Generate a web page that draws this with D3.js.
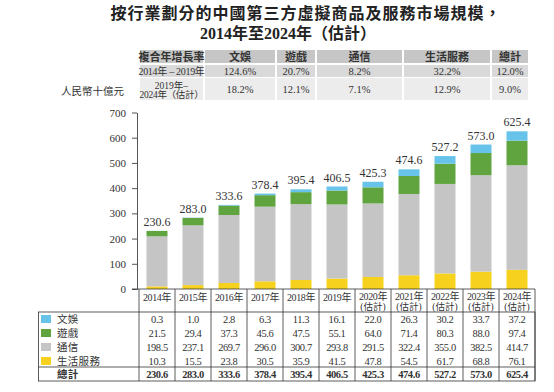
<!DOCTYPE html>
<html>
<head>
<meta charset="utf-8">
<script src="https://cdn.jsdelivr.net/npm/d3@7/dist/d3.min.js"></script>
<style>
  body { margin:0; background:#fff; }
  svg text { font-family:"Liberation Serif","Noto Sans CJK TC",serif; fill:#333; }
</style>
</head>
<body>
<svg id="chart" width="554" height="392"></svg>
<script>
// data
const years     = ['2014年','2015年','2016年','2017年','2018年','2019年','2020年','2021年','2022年','2023年','2024年'];
const estimated = [false,false,false,false,false,false,true,true,true,true,true];
const wenyu     = [0.3,1.0,2.8,6.3,11.3,16.1,22.0,26.3,30.2,33.7,37.2];
const youxi     = [21.5,29.4,37.3,45.6,47.5,55.1,64.0,71.4,80.3,88.0,97.4];
const tongxin   = [198.5,237.1,269.7,296.0,300.7,293.8,291.5,322.4,355.0,382.5,414.7];
const shenghuo  = [10.3,15.5,23.8,30.5,35.9,41.5,47.8,54.5,61.7,68.8,76.1];
const totals    = [230.6,283.0,333.6,378.4,395.4,406.5,425.3,474.6,527.2,573.0,625.4];
const yTicks    = [0,100,200,300,400,500,600,700];

const cagrHeads = ['複合年增長率','文娛','遊戲','通信','生活服務','總計'];
const cagr1419  = ['124.6%','20.7%','8.2%','32.2%','12.0%'];
const cagr1924  = ['18.2%','12.1%','7.1%','12.9%','9.0%'];

const series = [
  {key:'shenghuo', name:'生活服務', values:shenghuo, color:'#f6d21f'},
  {key:'tongxin',  name:'通信',     values:tongxin,  color:'#c6c5c6'},
  {key:'youxi',    name:'遊戲',     values:youxi,    color:'#5fa43f'},
  {key:'wenyu',    name:'文娛',     values:wenyu,    color:'#67c3ea'}
];

const svg = d3.select('#chart');

// title
svg.append('text').attr('x',306).attr('y',19).attr('text-anchor','middle')
   .style('font-family','"Noto Sans CJK TC",sans-serif').style('font-weight','bold')
   .style('font-size','16px').style('letter-spacing','1px').style('fill','#222')
   .text('按行業劃分的中國第三方虛擬商品及服務市場規模，');
svg.append('text').attr('x',288).attr('y',39).attr('text-anchor','middle')
   .style('font-weight','bold').style('font-size','16px').style('fill','#222')
   .text('2014年至2024年（估計）');

// CAGR table
const cagrCols = [[140,203],[205,275],[277,315],[317,402],[404,490],[492,528]];
const cagrRows = [[50,63,'#c6c6c6'],[65,77,'#d9d9d9'],[78,100,'#ececec']];
const ct = svg.append('g').attr('class','cagr');
cagrRows.forEach((r,ri)=>{
  cagrCols.forEach((c,ci)=>{
    ct.append('rect').attr('x',c[0]).attr('y',r[0]).attr('width',c[1]-c[0]).attr('height',r[1]-r[0])
      .attr('fill',r[2]);
  });
});
cagrHeads.forEach((h,i)=>{
  ct.append('text').attr('x',(cagrCols[i][0]+cagrCols[i][1])/2).attr('y',60.5)
    .attr('text-anchor','middle').style('font-family','"Noto Sans CJK TC",sans-serif')
    .style('font-weight','bold').style('font-size','11px').style('fill','#333').text(h);
});
ct.append('text').attr('x',171.5).attr('y',75).attr('text-anchor','middle')
  .style('font-size','10px').style('letter-spacing','-0.3px').text('2014年 – 2019年');
ct.append('text').attr('x',171.5).attr('y',88.5).attr('text-anchor','middle')
  .style('font-size','9.5px').text('2019年–');
ct.append('text').attr('x',171.5).attr('y',98).attr('text-anchor','middle')
  .style('font-size','9.5px').style('letter-spacing','-0.3px').text('2024年（估計）');
cagr1419.forEach((v,i)=>{
  ct.append('text').attr('x',(cagrCols[i+1][0]+cagrCols[i+1][1])/2).attr('y',75)
    .attr('text-anchor','middle').style('font-size','10.5px').text(v);
});
cagr1924.forEach((v,i)=>{
  ct.append('text').attr('x',(cagrCols[i+1][0]+cagrCols[i+1][1])/2).attr('y',93)
    .attr('text-anchor','middle').style('font-size','10.5px').text(v);
});
svg.append('text').attr('x',124).attr('y',95).attr('text-anchor','end')
   .style('font-size','10.5px').text('人民幣十億元');

// scales
const x = d3.scaleBand().domain(years).range([139,535]).paddingInner(0.417).paddingOuter(0.2085);
const y = d3.scaleLinear().domain([0,700]).range([289,112.5]);

// stacked bars
const rows = years.map((yr,i)=>{
  const o = {year:yr};
  series.forEach(s=> o[s.key]=s.values[i]);
  return o;
});
const stack = d3.stack().keys(series.map(s=>s.key))(rows);
svg.append('g').selectAll('g').data(stack).join('g')
   .attr('fill',(d,i)=>series[i].color)
   .selectAll('rect').data(d=>d).join('rect')
   .attr('x',d=>x(d.data.year)).attr('width',x.bandwidth())
   .attr('y',d=>y(d[1])).attr('height',d=>y(d[0])-y(d[1]));

// total labels
svg.append('g').selectAll('text').data(years).join('text')
   .attr('x',d=>x(d)+x.bandwidth()/2).attr('y',(d,i)=>y(totals[i])-5)
   .attr('text-anchor','middle').style('font-size','12px').style('fill','#333')
   .text((d,i)=>totals[i].toFixed(1));

// y axis
const ya = svg.append('g').attr('transform','translate(137,0)')
   .call(d3.axisLeft(y).tickValues(yTicks).tickSize(5).tickSizeOuter(0).tickPadding(6).tickFormat(d3.format('d')));
ya.select('.domain').attr('stroke','#555');
ya.selectAll('.tick line').attr('stroke','#555');
ya.selectAll('.tick text').style('font-size','11px').style('font-family','"Liberation Serif",serif').attr('fill','#333');

// x axis line / table
const step = x.step(), x0 = 139, x1 = 535;
const tb = svg.append('g').attr('class','table').attr('stroke','#333').attr('stroke-width',0.8);
tb.append('line').attr('x1',132).attr('x2',x1).attr('y1',289).attr('y2',289);
tb.append('rect').attr('x',38.5).attr('y',312).attr('width',x1-38.5).attr('height',69).attr('fill','none');
tb.append('line').attr('x1',38.5).attr('x2',x1).attr('y1',367).attr('y2',367);
d3.range(years.length+1).forEach(i=>{
  tb.append('line').attr('x1',x0+i*step).attr('x2',x0+i*step).attr('y1',289).attr('y2',381);
});

// year header
const hdr = svg.append('g').selectAll('g').data(years).join('g')
   .attr('transform',d=>`translate(${x(d)+x.bandwidth()/2},0)`);
hdr.append('text').attr('y',(d,i)=>estimated[i]?299.5:301).attr('text-anchor','middle')
   .style('font-size','10px').style('letter-spacing','-0.4px').text(d=>d);
hdr.filter((d,i)=>estimated[i]).append('text').attr('y',309.5).attr('text-anchor','middle')
   .style('font-size','9.5px').text('(估計)');

// data rows (top to bottom: 文娛, 遊戲, 通信, 生活服務, 總計)
const tableRows = [series[3],series[2],series[1],series[0]];
const rowY = [323,337,351,365];
tableRows.forEach((s,ri)=>{
  svg.append('rect').attr('x',41).attr('y',rowY[ri]-8).attr('width',10).attr('height',8).attr('fill',s.color);
  svg.append('text').attr('x',57).attr('y',rowY[ri]).style('font-size','10.5px').style('letter-spacing','0.3px').text(s.name);
  svg.append('g').selectAll('text').data(s.values).join('text')
     .attr('x',(d,i)=>x(years[i])+x.bandwidth()/2).attr('y',rowY[ri])
     .attr('text-anchor','middle').style('font-size','10.5px').style('letter-spacing','-0.4px')
     .text(d=>d.toFixed(1));
});
svg.append('text').attr('x',57).attr('y',378).style('font-size','10.5px').style('font-weight','bold').style('letter-spacing','0.3px').text('總計');
svg.append('g').selectAll('text').data(totals).join('text')
   .attr('x',(d,i)=>x(years[i])+x.bandwidth()/2).attr('y',378)
   .attr('text-anchor','middle').style('font-size','10.5px').style('font-weight','bold').style('letter-spacing','-0.4px')
   .text(d=>d.toFixed(1));
</script>
</body>
</html>
